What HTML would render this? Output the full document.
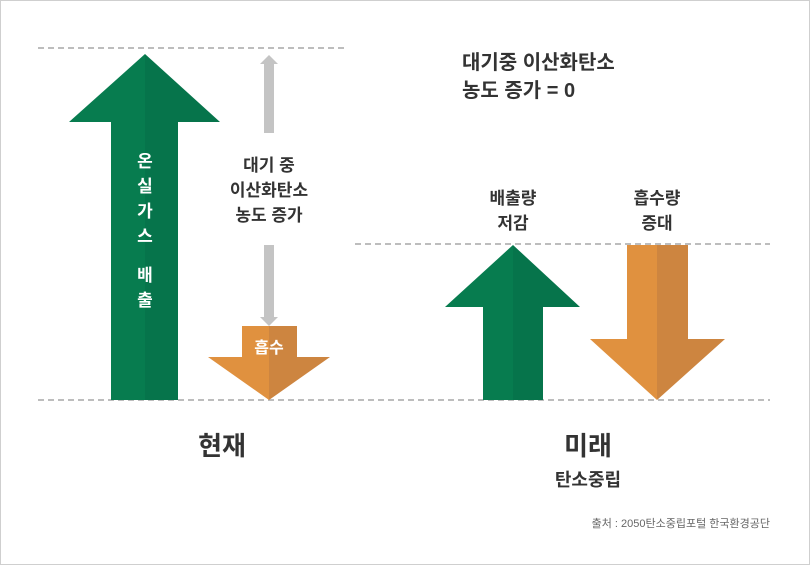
<!DOCTYPE html>
<html><head><meta charset="utf-8"><style>
body{margin:0;background:#fff}
svg{display:block}
text{font-family:"Liberation Sans","Noto Sans CJK KR",sans-serif;font-weight:bold}
</style></head><body>
<svg width="810" height="565" viewBox="0 0 810 565">
<rect x="0.5" y="0.5" width="809" height="564" fill="#fff" stroke="#cfcfcf"/>
<g stroke="#bdbdbd" stroke-width="2" stroke-dasharray="6,4">
<line x1="38" y1="48" x2="345" y2="48"/>
<line x1="355" y1="244" x2="770" y2="244"/>
<line x1="38" y1="400" x2="770" y2="400"/>
</g>
<!-- big green -->
<polygon points="145,54 69,122 111,122 111,400 145,400" fill="#077c4f"/>
<polygon points="145,54 220,122 178,122 178,400 145,400" fill="#06744b"/>
<!-- gray arrows -->
<polygon points="269,55 278,64 274,64 274,133 264,133 264,64 260,64" fill="#c4c4c4"/>
<polygon points="269,326 278,317 274,317 274,245 264,245 264,317 260,317" fill="#c4c4c4"/>
<!-- small orange -->
<polygon points="242,326 269,326 269,400 208,357 242,357" fill="#e0913f"/>
<polygon points="297,326 269,326 269,400 330,357 297,357" fill="#cd8540"/>
<!-- right green -->
<polygon points="513,245 445,307 483,307 483,400 513,400" fill="#077c4f"/>
<polygon points="513,245 580,307 543,307 543,400 513,400" fill="#06744b"/>
<!-- right orange -->
<polygon points="627,245 657,245 657,400 590,339 627,339" fill="#e0913f"/>
<polygon points="688,245 657,245 657,400 725,339 688,339" fill="#cd8540"/>
<g fill="#fff" font-size="17" text-anchor="middle">
<text x="145" y="167">온</text><text x="145" y="192">실</text><text x="145" y="217">가</text><text x="145" y="242">스</text>
<text x="145" y="281">배</text><text x="145" y="306">출</text>
<text x="269" y="353" font-size="16">흡수</text>
</g>
<g fill="#333" font-size="17" text-anchor="middle">
<text x="269" y="171">대기 중</text>
<text x="269" y="196">이산화탄소</text>
<text x="269" y="221">농도 증가</text>
<text x="513" y="204">배출량</text>
<text x="513" y="229">저감</text>
<text x="657" y="204">흡수량</text>
<text x="657" y="229">증대</text>
</g>
<g fill="#333" font-size="20">
<text x="462" y="69">대기중 이산화탄소</text>
<text x="462" y="97">농도 증가 = 0</text>
</g>
<text x="222" y="455" font-size="26" fill="#333" text-anchor="middle">현재</text>
<text x="588" y="455" font-size="26" fill="#333" text-anchor="middle">미래</text>
<text x="588" y="486" font-size="18" fill="#333" text-anchor="middle">탄소중립</text>
<text x="770" y="527" font-size="11" fill="#666" text-anchor="end" style="font-weight:normal">출처 : 2050탄소중립포털 한국환경공단</text>
</svg>
</body></html>
